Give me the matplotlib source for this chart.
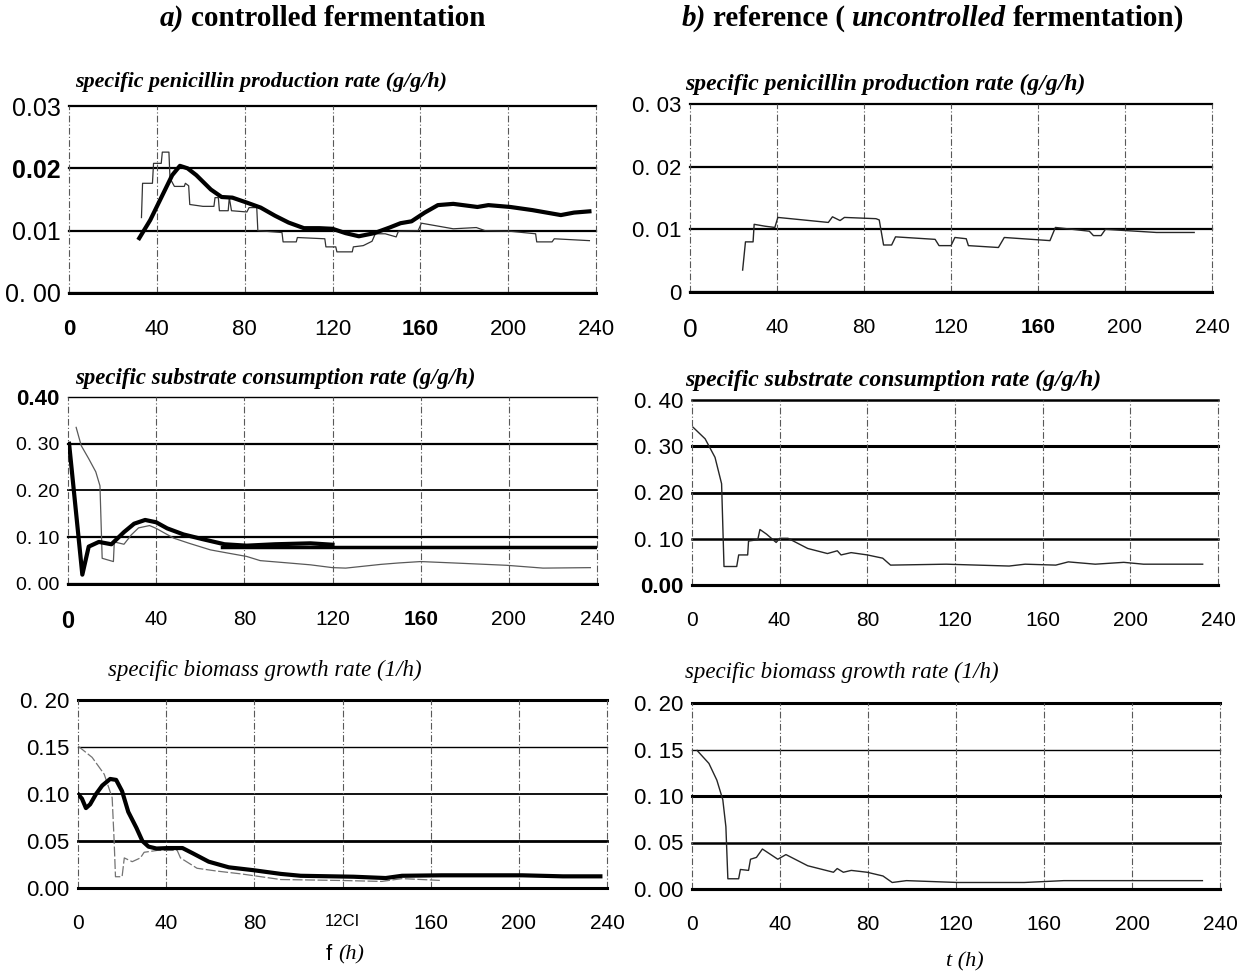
import numpy as np
import matplotlib
matplotlib.use("Agg")
import matplotlib.pyplot as plt

# ---- data ----
# a) controlled fermentation, penicillin production rate (g/g/h)
a1_thick_t = [32, 37, 42, 47, 50.5, 54, 58, 64.6, 69.5, 74.4, 81, 87.3, 93.8, 100, 107, 114,
              120, 126, 132, 139, 146, 151, 156, 162, 168, 175, 186, 191, 201, 211, 224, 230, 237]
a1_thick_v = [0.0088, 0.0117, 0.0153, 0.0189, 0.0204, 0.0200, 0.0189, 0.0166, 0.0154, 0.0153,
              0.0145, 0.0137, 0.0124, 0.0113, 0.0104, 0.0104, 0.0103, 0.0096, 0.0091, 0.0096,
              0.0105, 0.0112, 0.0115, 0.0129, 0.0141, 0.0143, 0.0138, 0.0141, 0.0138, 0.0133,
              0.0125, 0.0129, 0.0131]
a1_thin_t = [33, 33.5, 38, 38.5, 42, 42.5, 45.5, 46, 48, 52.5, 53, 54.5, 55, 61, 66, 66.5, 68,
             68.5, 72.5, 73, 74, 81, 82, 85.5, 86, 97, 97.5, 103.5, 104, 116.5, 117, 121.5, 122,
             129, 129.5, 134, 138, 139.5, 144, 149, 150, 159, 160.5, 175, 185.5, 189.5, 201,
             212.5, 213, 220, 221, 237]
a1_thin_v = [0.0121, 0.0176, 0.0176, 0.0208, 0.0208, 0.0226, 0.0226, 0.0184, 0.0171, 0.0171,
             0.0176, 0.0172, 0.0142, 0.0139, 0.0139, 0.0153, 0.0153, 0.0132, 0.0132, 0.0153,
             0.0132, 0.0130, 0.0137, 0.0137, 0.0100, 0.0097, 0.0082, 0.0082, 0.0089, 0.0087,
             0.0074, 0.0074, 0.0066, 0.0066, 0.0074, 0.0076, 0.0083, 0.0095, 0.0095, 0.0090,
             0.0099, 0.0100, 0.0112, 0.0103, 0.0105, 0.0100, 0.0099, 0.0095, 0.0082, 0.0082,
             0.0087, 0.0084]

# b) reference, penicillin production rate
b1_t = [24.2, 25.5, 29, 29.5, 34.5, 39, 40.4, 52, 63.6, 65.5, 69, 71, 85.5, 87, 89, 92.7, 94.5,
        112.7, 114.5, 120, 121.8, 127, 128, 141.8, 144.5, 165.5, 168, 183.6, 185.5, 189, 191,
        214.5, 231.8]
b1_v = [0.0035, 0.0080, 0.0080, 0.0108, 0.0105, 0.0103, 0.0119, 0.0115, 0.0111, 0.0120, 0.0114,
        0.0119, 0.0117, 0.0115, 0.0075, 0.0075, 0.0088, 0.0084, 0.0074, 0.0074, 0.0087, 0.0085,
        0.0074, 0.0071, 0.0087, 0.0082, 0.0103, 0.0097, 0.0090, 0.0090, 0.0100, 0.0095, 0.0095]

# a) substrate consumption rate (g/g/h)
a2_thick_t = [0.5, 6.5, 9.4, 14, 19.7, 25.4, 30, 35, 40, 45, 52.4, 61, 71, 81, 94, 110, 120]
a2_thick_v = [0.30, 0.02, 0.08, 0.09, 0.085, 0.111, 0.129, 0.137, 0.132, 0.119, 0.106, 0.096,
              0.085, 0.082, 0.085, 0.087, 0.084]
a2_set_t = [70, 240]
a2_set_v = [0.08, 0.08]
a2_thin_t = [3.7, 6, 9.4, 12.6, 14.5, 15.5, 20.6, 21, 25.4, 28.7, 32, 37, 40, 43.4, 48, 55,
             64.6, 72.7, 81, 87.2, 100, 110, 120, 126, 142, 150, 160, 175, 199, 215.5, 237]
a2_thin_v = [0.335, 0.296, 0.268, 0.24, 0.21, 0.055, 0.048, 0.09, 0.085, 0.105, 0.12, 0.125,
             0.119, 0.11, 0.098, 0.087, 0.073, 0.066, 0.059, 0.05, 0.045, 0.041, 0.035, 0.034,
             0.042, 0.045, 0.048, 0.045, 0.04, 0.034, 0.035]

# b) substrate consumption rate
b2_t = [0.5, 6, 10.5, 13.5, 14.6, 20.4, 21.3, 25.4, 25.8, 30, 31, 34, 38.4, 40, 43.8, 52.8, 61.8,
        66.3, 68, 72.6, 80, 87, 90.6, 116, 144.7, 152, 166, 171.7, 184, 197, 206, 233]
b2_v = [0.341, 0.316, 0.276, 0.219, 0.04, 0.04, 0.065, 0.065, 0.095, 0.098, 0.12, 0.11, 0.092,
        0.101, 0.101, 0.079, 0.068, 0.074, 0.065, 0.07, 0.065, 0.058, 0.043, 0.045, 0.041, 0.045,
        0.043, 0.05, 0.045, 0.049, 0.045, 0.045]

# a) biomass growth rate (1/h)
a3_thick_t = [0, 1.8, 3.6, 5.5, 8.2, 11, 14.6, 17.3, 20, 22.8, 26.5, 29.2, 32, 35.6, 41, 47.4,
              52, 59.3, 68.4, 79.4, 92, 101, 125, 139.6, 147, 165, 201.6, 220, 237]
a3_thick_v = [0.100, 0.095, 0.085, 0.089, 0.100, 0.109, 0.116, 0.115, 0.103, 0.081, 0.064, 0.050,
              0.044, 0.042, 0.0425, 0.0425, 0.037, 0.028, 0.022, 0.019, 0.015, 0.013, 0.012,
              0.0106, 0.013, 0.0135, 0.0135, 0.0124, 0.0124]
a3_thin_t = [0, 6.4, 11.9, 15.5, 16.4, 17, 20, 21, 24.6, 28.3, 30, 36, 45, 46.5, 54, 63, 74, 92,
             119.5, 137.8, 147, 165]
a3_thin_v = [0.151, 0.139, 0.121, 0.096, 0.05, 0.012, 0.012, 0.032, 0.028, 0.032, 0.038, 0.040,
             0.040, 0.032, 0.021, 0.018, 0.015, 0.009, 0.008, 0.007, 0.010, 0.008]

# b) biomass growth rate
b3_t = [2.3, 7.7, 11.3, 14, 15.4, 16.3, 21.2, 22, 25.7, 26.6, 29.3, 32, 39, 42.7, 52.6, 64.3,
        66, 68.8, 72.4, 79.6, 86.8, 91, 97.5, 120.8, 151, 169, 232]
b3_v = [0.149, 0.135, 0.117, 0.096, 0.067, 0.011, 0.011, 0.021, 0.02, 0.032, 0.034, 0.043,
        0.032, 0.037, 0.025, 0.018, 0.022, 0.018, 0.02, 0.018, 0.014, 0.007, 0.009, 0.007,
        0.007, 0.009, 0.009]

x_ticks = [0, 40, 80, 120, 160, 200, 240]
a1_xlabels = ["0", "40", "80", "120", "160", "200", "240"]
a2_xlabels = ["0", "40", "80", "120", "160", "200", "240"]
a3_xlabels = ["0", "40", "80", "12CI", "160", "200", "240"]
b_xlabels = ["0", "40", "80", "120", "160", "200", "240"]

pen_ticks = [0, 0.01, 0.02, 0.03]
a1_ylabels = ["0. 00", "0.01", "0.02", "0.03"]
b1_ylabels = ["0", "0. 01", "0. 02", "0. 03"]
sub_ticks = [0, 0.1, 0.2, 0.3, 0.4]
a2_ylabels = ["0. 00", "0. 10", "0. 20", "0. 30", "0.40"]
b2_ylabels = ["0.00", "0. 10", "0. 20", "0. 30", "0. 40"]
bio_ticks = [0, 0.05, 0.10, 0.15, 0.20]
a3_ylabels = ["0.00", "0.05", "0.10", "0.15", "0. 20"]
b3_ylabels = ["0. 00", "0. 05", "0. 10", "0. 15", "0. 20"]

W, H = 1250, 976
fig = plt.figure(figsize=(W / 100, H / 100), dpi=100)
SANS = "Liberation Sans"
SERIF = "Liberation Serif"


def px_axes(left, top, right, bottom):
    return fig.add_axes([left / W, 1 - bottom / H, (right - left) / W, (bottom - top) / H])


def style_axes(ax, yticks, ylabels, ylim, xlabels, ysize=16, xsize=15, grid_lw=None):
    ax.set_xlim(0, 240)
    ax.set_ylim(*ylim)
    for s in ax.spines.values():
        s.set_visible(False)
    if grid_lw is None:
        grid_lw = [1.6] * len(yticks)
    for y, lw in zip(yticks, grid_lw):
        ax.axhline(y, color="black", lw=lw, clip_on=False, zorder=1)
    for x in x_ticks:
        ax.axvline(x, color="0.35", lw=0.8, ls=(0, (6, 2, 1, 2)), clip_on=False, zorder=1)
    ax.axhline(ylim[0], color="black", lw=2.2, clip_on=False, zorder=1)
    ax.set_xticks(x_ticks, xlabels, fontsize=xsize, family=SANS)
    ax.set_yticks(yticks, ylabels, fontsize=ysize, family=SANS)
    ax.tick_params(length=0)
    ax.tick_params(axis="x", pad=19)
    ax.tick_params(axis="y", pad=6)


# panels
ax1 = px_axes(69, 106, 596, 293)
ax1.plot(a1_thin_t, a1_thin_v, color="0.2", lw=0.9, zorder=3)
ax1.plot(a1_thick_t, a1_thick_v, color="black", lw=3, zorder=4)
style_axes(ax1, pen_ticks, a1_ylabels, (0, 0.03), a1_xlabels, ysize=18, xsize=16)
ax1.get_yticklabels()[2].set_fontweight("bold")
ax1.get_xticklabels()[0].set_fontweight("bold")
ax1.get_xticklabels()[4].set_fontweight("bold")

bx1 = px_axes(690, 104, 1212, 292)
bx1.plot(b1_t, b1_v, color="0.15", lw=1.0, zorder=3)
style_axes(bx1, pen_ticks, b1_ylabels, (0, 0.03), b_xlabels, ysize=16, xsize=15)
bx1.get_xticklabels()[0].set_fontsize(19)
bx1.get_xticklabels()[4].set_fontweight("bold")

ax2 = px_axes(68, 397, 597, 584)
ax2.plot(a2_thin_t, a2_thin_v, color="0.35", lw=0.9, zorder=3)
ax2.plot(a2_set_t, a2_set_v, color="black", lw=2.5, zorder=3)
ax2.plot(a2_thick_t, a2_thick_v, color="black", lw=3, zorder=4)
style_axes(ax2, sub_ticks, a2_ylabels, (0, 0.4), a2_xlabels, ysize=14, xsize=15,
           grid_lw=[1.6, 1.6, 1.3, 1.6, 1.0])
ax2.get_yticklabels()[-1].set_fontweight("bold")
ax2.get_yticklabels()[-1].set_fontsize(16)
ax2.get_xticklabels()[0].set_fontweight("bold")
ax2.get_xticklabels()[0].set_fontsize(17)
ax2.get_xticklabels()[4].set_fontweight("bold")

bx2 = px_axes(692, 400, 1218, 585)
bx2.plot(b2_t, b2_v, color="0.15", lw=1.0, zorder=3)
style_axes(bx2, sub_ticks, b2_ylabels, (0, 0.4), b_xlabels, ysize=16, xsize=15,
           grid_lw=[2.2, 1.8, 2.0, 2.2, 1.8])
bx2.get_yticklabels()[0].set_fontweight("bold")

ax3 = px_axes(78, 700, 607, 888)
ax3.plot(a3_thin_t, a3_thin_v, color="0.45", lw=0.9, ls=(0, (8, 2)), zorder=3)
ax3.plot(a3_thick_t, a3_thick_v, color="black", lw=3, zorder=4)
style_axes(ax3, bio_ticks, a3_ylabels, (0, 0.2), a3_xlabels, ysize=16, xsize=15,
           grid_lw=[1.0, 2.0, 1.3, 1.0, 2.2])
ax3.get_xticklabels()[3].set_fontsize(12)

bx3 = px_axes(692, 703, 1220, 889)
bx3.plot(b3_t, b3_v, color="0.15", lw=1.0, zorder=3)
style_axes(bx3, bio_ticks, b3_ylabels, (0, 0.2), b_xlabels, ysize=16, xsize=15,
           grid_lw=[2.2, 1.8, 2.2, 1.0, 2.2])

# axis titles (x)
fig.text(338 / W, 1 - 955 / H, "f ", fontsize=16, family=SANS, ha="right", va="center")
fig.text(338 / W, 1 - 955 / H, "(h)", fontsize=16, family=SERIF, style="italic",
         ha="left", va="center")
fig.text(965 / W, 1 - 962 / H, "t (h)", fontsize=16, family=SERIF, style="italic",
         ha="center", va="center")

# panel subtitles
sub_pen = "specific penicillin production rate (g/g/h)"
sub_sub = "specific substrate consumption rate (g/g/h)"
sub_bio = "specific biomass growth rate (1/h)"
for x, y, s, w, fs in [(75, 82, sub_pen, "bold", 15.8), (685, 84, sub_pen, "bold", 17),
                       (75, 378, sub_sub, "bold", 16.4), (685, 380, sub_sub, "bold", 17),
                       (108, 670, sub_bio, "normal", 16.5), (685, 672, sub_bio, "normal", 16.5)]:
    fig.text(x / W, 1 - y / H, s, fontsize=fs, family=SERIF, style="italic",
             weight=w, ha="left", va="center")

# column headers with mixed styles
renderer = fig.canvas.get_renderer()


def draw_runs(x, y, runs):
    for txt, st, gap in runs:
        t = fig.text(x / W, 1 - y / H, txt, fontsize=21, family=SERIF, weight="bold",
                     style=st, ha="left", va="center")
        x += t.get_window_extent(renderer).width + gap


draw_runs(160, 18, [("a)", "italic", 7), ("controlled fermentation", "normal", 0)])
draw_runs(682, 18, [("b)", "italic", 7), ("reference (", "normal", 6),
                    ("uncontrolled", "italic", 7), ("fermentation)", "normal", 0)])

fig.savefig("out.png", dpi=100, facecolor="white")
